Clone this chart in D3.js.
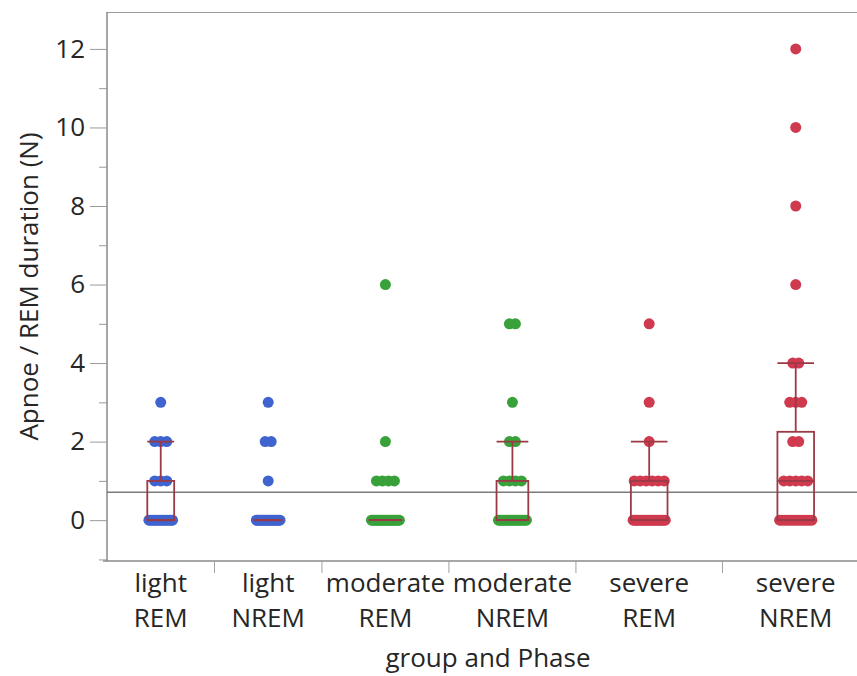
<!DOCTYPE html>
<html>
<head>
<meta charset="utf-8">
<script src="https://cdnjs.cloudflare.com/ajax/libs/d3/7.8.5/d3.min.js"></script>
<style>
    html, body { margin: 0; padding: 0; background: #fff; }
    #chart { width: 857px; height: 676px; overflow: hidden; }
    text { font-family: "Open Sans", "Noto Sans", sans-serif; fill: #262626; }
</style>
</head>
<body>
<div id="chart"></div>
<script>
// groups on the x axis, width of each band follows its sample size
var groups = ["light REM", "light NREM", "moderate REM", "moderate NREM", "severe REM", "severe NREM"];
var group_lines = [["light", "REM"], ["light", "NREM"], ["moderate", "REM"], ["moderate", "NREM"], ["severe", "REM"], ["severe", "NREM"]];
var group_n = [22, 22, 26, 26, 30, 30];
var group_color = ["blue", "blue", "green", "green", "red", "red"];

// points (apnoe count per REM duration)
var light_rem = [3, 2, 2, 2, 1, 1, 1, 0, 0, 0, 0, 0, 0, 0, 0, 0, 0, 0, 0, 0, 0, 0];
var light_nrem = [3, 2, 2, 1, 0, 0, 0, 0, 0, 0, 0, 0, 0, 0, 0, 0, 0, 0, 0, 0, 0, 0];
var moderate_rem = [6, 2, 1, 1, 1, 1, 0, 0, 0, 0, 0, 0, 0, 0, 0, 0, 0, 0, 0, 0, 0, 0, 0, 0, 0, 0];
var moderate_nrem = [5, 5, 3, 2, 2, 1, 1, 1, 1, 0, 0, 0, 0, 0, 0, 0, 0, 0, 0, 0, 0, 0, 0, 0, 0, 0];
var severe_rem = [5, 3, 2, 1, 1, 1, 1, 1, 1, 0, 0, 0, 0, 0, 0, 0, 0, 0, 0, 0, 0, 0, 0, 0, 0, 0, 0, 0, 0, 0];
var severe_nrem = [12, 10, 8, 6, 4, 4, 3, 3, 3, 2, 2, 1, 1, 1, 1, 1, 0, 0, 0, 0, 0, 0, 0, 0, 0, 0, 0, 0, 0, 0];
var group_values = [light_rem, light_nrem, moderate_rem, moderate_nrem, severe_rem, severe_nrem];

// box plot stats
var box_q1 = [0, 0, 0, 0, 0, 0];
var box_median = [0, 0, 0, 0, 0, 1];
var box_q3 = [1, 0, 0, 1, 1, 2.25];
var whisker_lo = [0, 0, 0, 0, 0, 0];
var whisker_hi = [2, 0, 0, 2, 2, 4];

var grand_mean = 0.71;
var y_ticks = [0, 2, 4, 6, 8, 10, 12];
var y_minor = [-1, 1, 3, 5, 7, 9, 11];
var y_title = "Apnoe / REM duration (N)";
var x_title = "group and Phase";

var draw_chart = {
    width: 857,
    height: 676,
    view: 0,
    x: 0,
    y: 0,
    initialize: function() {
        var self = this;
        self.view = d3.select("#chart").append("svg")
            .attr("width", self.width)
            .attr("height", self.height);
        self.left = 107;
        self.right = 869;
        self.top = 12;
        self.bottom = 561;
        var cum = [0];
        for (var i = 0; i < group_n.length; i++) cum.push(cum[i] + group_n[i]);
        self.cum = cum;
        self.x = d3.scaleLinear().domain([0, cum[cum.length - 1]]).range([self.left, self.right]);
        self.y = d3.scaleLinear().domain([-1.04, 12.94]).range([self.bottom, self.top]);
        self.colors = { blue: "#3f64cf", green: "#38a13a", red: "#cf3a4f" };
        self.draw_axes();
        self.draw_points();
        self.draw_boxes();
        self.draw_labels();
    },
    band: function(i) {
        var self = this;
        var x0 = self.x(self.cum[i]), x1 = self.x(self.cum[i + 1]);
        return { x0: x0, x1: x1, c: (x0 + x1) / 2, w: x1 - x0 };
    },
    draw_axes: function() {
        var self = this;
        var g = self.view.append("g");
        // frame
        g.append("line").attr("x1", self.left).attr("x2", self.width).attr("y1", self.top + 0.5).attr("y2", self.top + 0.5)
            .attr("stroke", "#9a9a9a").attr("stroke-width", 1);
        g.append("line").attr("x1", self.left - 4).attr("x2", self.width).attr("y1", self.bottom).attr("y2", self.bottom)
            .attr("stroke", "#8a8a8a").attr("stroke-width", 1.5);

        var minor = g.append("g").attr("transform", "translate(" + self.left + ",0)")
            .call(d3.axisLeft(self.y).tickValues(y_minor).tickSize(8).tickFormat(""));
        minor.select(".domain").remove();
        minor.selectAll("line").attr("stroke", "#9a9a9a");

        var major = g.append("g").attr("transform", "translate(" + self.left + ",0)")
            .call(d3.axisLeft(self.y).tickValues(y_ticks).tickSize(17).tickPadding(5).tickSizeOuter(0));
        major.select(".domain").attr("stroke", "#8a8a8a").attr("stroke-width", 1.5)
            .attr("d", "M0," + self.top + "V" + self.bottom);
        major.selectAll(".tick line").attr("stroke", "#9a9a9a");
        major.selectAll(".tick text").style("font-size", "26px").attr("fill", "#262626")
            .style("font-family", "'Open Sans', sans-serif");

        // group dividers under the x axis
        var dividers = self.cum.slice(1, self.cum.length - 1);
        g.selectAll(".divider").data(dividers).enter().append("line")
            .attr("class", "divider")
            .attr("x1", function(d) { return self.x(d); })
            .attr("x2", function(d) { return self.x(d); })
            .attr("y1", self.bottom)
            .attr("y2", self.bottom + 12)
            .attr("stroke", "#a0a0a0");

        // grand mean reference line
        g.append("line").attr("x1", self.left).attr("x2", self.width)
            .attr("y1", self.y(grand_mean)).attr("y2", self.y(grand_mean))
            .attr("stroke", "#7a7a7a").attr("stroke-width", 1.5);
    },
    draw_points: function() {
        var self = this;
        var pts = [];
        for (var i = 0; i < groups.length; i++) {
            var b = self.band(i);
            var counts = d3.rollup(group_values[i], function(v) { return v.length; }, function(d) { return d; });
            var seen = new Map();
            var max_span = b.w * 0.22;
            group_values[i].forEach(function(v) {
                var m = counts.get(v), k = seen.get(v) || 0;
                seen.set(v, k + 1);
                var span = Math.min(max_span, (m - 1) * 6);
                var off = m > 1 ? (k / (m - 1) - 0.5) * span : 0;
                pts.push({ g: i, v: v, px: b.c + off });
            });
        }
        self.view.append("g").selectAll("circle")
            .data(pts)
            .enter().append("circle")
            .attr("cx", function(d) { return d.px; })
            .attr("cy", function(d) { return self.y(d.v); })
            .attr("r", 5.5)
            .style("fill", function(d) { return self.colors[group_color[d.g]]; });
    },
    draw_boxes: function() {
        var self = this;
        var stroke = "#9b3a46";
        var g = self.view.append("g").attr("fill", "none").attr("stroke", stroke).attr("stroke-width", 1.8);
        for (var i = 0; i < groups.length; i++) {
            var b = self.band(i);
            var bw = b.w * 0.25;
            var xl = b.c - bw / 2, xr = b.c + bw / 2;
            g.append("rect").attr("x", xl).attr("width", bw)
                .attr("y", self.y(box_q3[i]))
                .attr("height", Math.max(0.01, self.y(box_q1[i]) - self.y(box_q3[i])));
            g.append("line").attr("x1", xl).attr("x2", xr)
                .attr("y1", self.y(box_median[i])).attr("y2", self.y(box_median[i]));
            g.append("line").attr("x1", b.c).attr("x2", b.c)
                .attr("y1", self.y(box_q3[i])).attr("y2", self.y(whisker_hi[i]));
            g.append("line").attr("x1", b.c).attr("x2", b.c)
                .attr("y1", self.y(box_q1[i])).attr("y2", self.y(whisker_lo[i]));
            g.append("line").attr("x1", xl).attr("x2", xr)
                .attr("y1", self.y(whisker_hi[i])).attr("y2", self.y(whisker_hi[i]));
            g.append("line").attr("x1", xl).attr("x2", xr)
                .attr("y1", self.y(whisker_lo[i])).attr("y2", self.y(whisker_lo[i]));
        }
    },
    draw_labels: function() {
        var self = this;
        var g = self.view.append("g");
        for (var i = 0; i < groups.length; i++) {
            var b = self.band(i);
            var t = g.append("text").attr("text-anchor", "middle").style("font-size", "26px");
            t.append("tspan").attr("x", b.c).attr("y", 592).text(group_lines[i][0]);
            t.append("tspan").attr("x", b.c).attr("y", 627).text(group_lines[i][1]);
        }
        g.append("text").attr("text-anchor", "middle")
            .attr("x", (self.left + self.right) / 2).attr("y", 667)
            .style("font-size", "26px").text(x_title);
        g.append("text").attr("text-anchor", "middle")
            .attr("transform", "translate(38," + ((self.top + self.bottom) / 2) + ") rotate(-90)")
            .style("font-size", "26px").text(y_title);
    }
};

draw_chart.initialize();
</script>
</body>
</html>
